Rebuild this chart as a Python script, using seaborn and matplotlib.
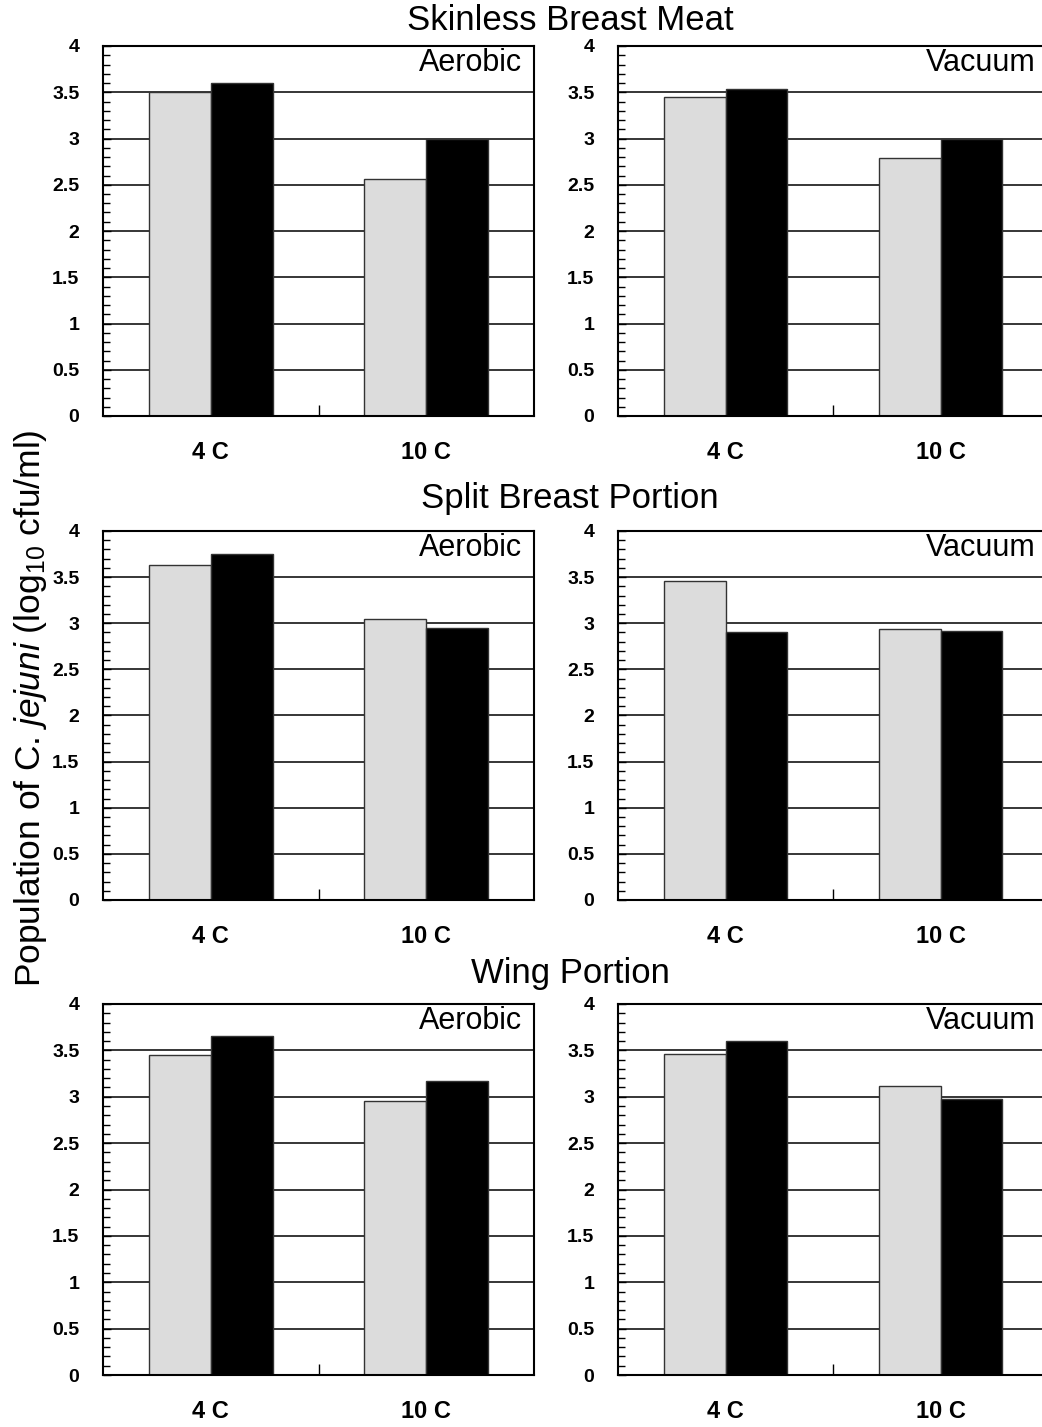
import numpy as np
import pandas as pd
import matplotlib
matplotlib.use("Agg")
import matplotlib.pyplot as plt
import seaborn as sns
from matplotlib.ticker import MultipleLocator

# data (log10 cfu/ml)
temps = ["4 C", "10 C"]
series = ["Control", "Treated"]          # grey bar, black bar
products = ["Skinless Breast Meat", "Split Breast Portion", "Wing Portion"]
packaging = ["Aerobic", "Vacuum"]

skinless_aerobic_grey = [3.50, 2.56]
skinless_aerobic_black = [3.60, 3.00]
skinless_vacuum_grey = [3.45, 2.79]
skinless_vacuum_black = [3.53, 3.00]

split_aerobic_grey = [3.63, 3.05]
split_aerobic_black = [3.75, 2.95]
split_vacuum_grey = [3.46, 2.94]
split_vacuum_black = [2.90, 2.92]

wing_aerobic_grey = [3.45, 2.95]
wing_aerobic_black = [3.65, 3.17]
wing_vacuum_grey = [3.46, 3.12]
wing_vacuum_black = [3.60, 2.98]

yticks = [0, 0.5, 1, 1.5, 2, 2.5, 3, 3.5, 4]

panels = [
    [(skinless_aerobic_grey, skinless_aerobic_black), (skinless_vacuum_grey, skinless_vacuum_black)],
    [(split_aerobic_grey, split_aerobic_black), (split_vacuum_grey, split_vacuum_black)],
    [(wing_aerobic_grey, wing_aerobic_black), (wing_vacuum_grey, wing_vacuum_black)],
]

sns.set_style("white")
plt.rcParams["font.family"] = ["Liberation Sans", "DejaVu Sans"]
plt.rcParams["mathtext.fontset"] = "custom"
plt.rcParams["mathtext.rm"] = "Liberation Sans"
plt.rcParams["mathtext.it"] = "Liberation Sans:italic"
plt.rcParams["text.color"] = "black"
plt.rcParams["xtick.color"] = "black"
plt.rcParams["ytick.color"] = "black"

W, H = 1042, 1427
fig = plt.figure(figsize=(W / 100, H / 100), dpi=100)
fig.patch.set_facecolor("white")

# panel boxes in pixels
cols = [(103, 534), (618, 1048)]
rows = [(46, 416), (531, 900), (1004, 1375)]
title_y = [20, 498, 974]

for r, (top, bot) in enumerate(rows):
    fig.text(570 / W, 1 - title_y[r] / H, products[r], ha="center", va="center", fontsize=25)
    for c, (left, right) in enumerate(cols):
        ax = fig.add_axes([left / W, 1 - bot / H, (right - left) / W, (bot - top) / H])
        grey, black = panels[r][c]
        df = pd.DataFrame({
            "temp": temps * 2,
            "series": [series[0]] * 2 + [series[1]] * 2,
            "value": grey + black,
        })
        sns.barplot(data=df, x="temp", y="value", hue="series", order=temps,
                    hue_order=series, palette=["#dcdcdc", "#000000"], saturation=1,
                    width=0.574, edgecolor="#333333", linewidth=1, legend=False, ax=ax)

        ax.set_xlim(-0.5, 1.5)
        ax.set_ylim(0, 4)
        ax.set_yticks(yticks)
        ax.set_yticklabels([f"{v:g}" for v in yticks], fontsize=14, fontweight="bold")
        ax.yaxis.set_minor_locator(MultipleLocator(0.1))
        ax.tick_params(axis="y", which="both", left=True, colors="black")
        ax.tick_params(axis="y", which="major", direction="in", length=6, width=1, pad=17)
        ax.tick_params(axis="y", which="minor", direction="in", length=5, width=1)
        ax.set_xticks([0, 1])
        ax.set_xticklabels(temps, fontsize=17, fontweight="bold")
        ax.set_xticks([0.5], minor=True)
        ax.tick_params(axis="x", which="both", bottom=True, colors="black")
        ax.tick_params(axis="x", which="major", length=0, pad=18)
        ax.tick_params(axis="x", which="minor", direction="in", length=8, width=1)

        ax.yaxis.grid(True, which="major", color="black", linewidth=1.1)
        ax.set_axisbelow(True)
        for s in ax.spines.values():
            s.set_visible(True)
            s.set_color("black")
            s.set_linewidth(1.5)
        ax.set_xlabel("")
        ax.set_ylabel("")

        axw = right - left
        axh = bot - top
        ax.text(1 - 12 / axw, 1 - 17 / axh, packaging[c], transform=ax.transAxes,
                ha="right", va="center", fontsize=22)

fig.text(31 / W, 1 - 708 / H, r"Population of C. $\mathit{jejuni}$ (log$_{10}$ cfu/ml)",
         rotation=90, ha="center", va="center", fontsize=25.5)

fig.savefig("out.png", dpi=100)
